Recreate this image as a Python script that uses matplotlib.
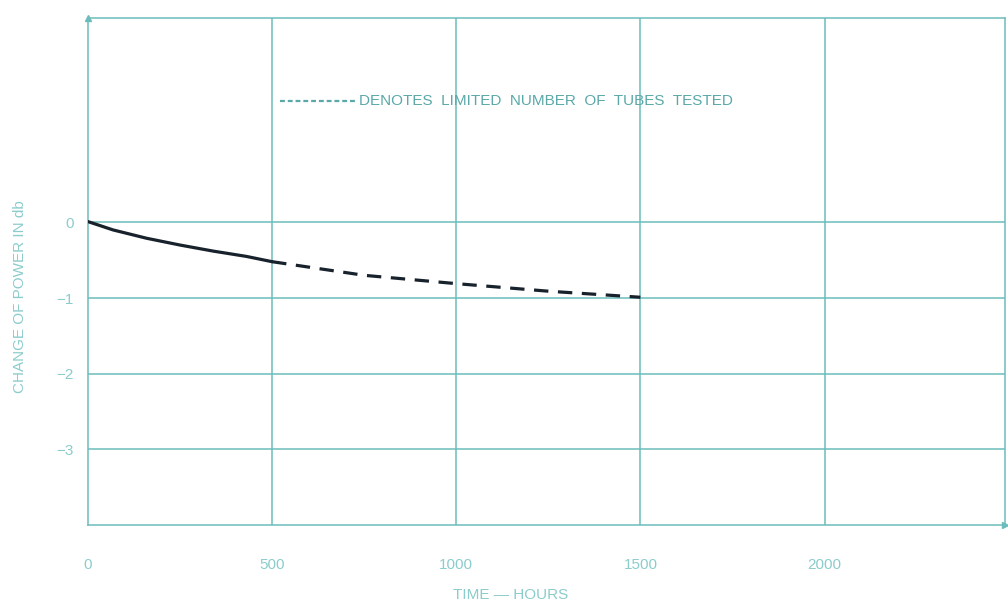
import matplotlib
matplotlib.use("Agg")
import matplotlib.pyplot as plt

# Measured power change over life (hours vs change in db)
hours_solid = [0, 68, 159, 250, 340, 430, 500]
db_solid = [0.01, -0.10, -0.21, -0.30, -0.38, -0.45, -0.52]
hours_dashed = [500, 750, 1000, 1250, 1500]
db_dashed = [-0.52, -0.70, -0.81, -0.91, -0.99]

x_ticks = [0, 500, 1000, 1500, 2000]
x_tick_labels = ["0", "500", "1000", "1500", "2000"]
y_ticks = [0, -1, -2, -3]
y_tick_labels = ["0", "\u22121", "\u22122", "\u22123"]

grid_c = "#6cbcbc"
label_c = "#8ccccc"
note_c = "#5aa8a8"
curve_c = "#18222c"

plt.rcParams["font.family"] = ["Liberation Sans", "DejaVu Sans"]

fig = plt.figure(figsize=(10.08, 6.03), dpi=100)
ax = fig.add_axes([0.0873, 0.1294, 0.9097, 0.8406])
ax.set_xlim(0, 2490)
ax.set_ylim(-4, 2.7)

for xv in x_ticks[1:]:
    ax.axvline(xv, color=grid_c, lw=1.1, zorder=1)
for yv in y_ticks:
    ax.axhline(yv, color=grid_c, lw=1.1, zorder=1)
for s in ax.spines.values():
    s.set_color(grid_c)
    s.set_linewidth(1.1)

ax.set_xticks(x_ticks)
ax.set_xticklabels(x_tick_labels)
ax.set_yticks(y_ticks)
ax.set_yticklabels(y_tick_labels)
ax.tick_params(length=0, colors=label_c, labelsize=11)
ax.tick_params(axis="x", pad=24)
ax.tick_params(axis="y", pad=10)

ax.set_xlabel("TIME \u2014 HOURS", color=label_c, fontsize=11, va="center")
ax.xaxis.set_label_coords(0.461, -0.138)
ax.set_ylabel("CHANGE OF POWER IN db", color=label_c, fontsize=11, va="center")
ax.yaxis.set_label_coords(-0.074, 0.45)

# Life curve: solid where many tubes were tested, dashed beyond
ax.plot(hours_solid, db_solid, color=curve_c, lw=2.3, solid_capstyle="round", zorder=3)
ax.plot(hours_dashed, db_dashed, color=curve_c, lw=2.3, dashes=(4.5, 3), zorder=3)

# Axis arrowheads
ax.plot([1], [0], marker=">", color=grid_c, ms=5, transform=ax.transAxes, clip_on=False)
ax.plot([0], [1], marker="^", color=grid_c, ms=4, transform=ax.transAxes, clip_on=False)

# Note explaining the dashed portion
ax.plot([0.209, 0.293], [0.836, 0.836], color=note_c, lw=1.6, dashes=(2.2, 1.3),
        transform=ax.transAxes)
ax.text(0.296, 0.836, "DENOTES  LIMITED  NUMBER  OF  TUBES  TESTED", color=note_c,
        fontsize=11, va="center", ha="left", transform=ax.transAxes)

fig.savefig("out.png", dpi=100, facecolor="white")
